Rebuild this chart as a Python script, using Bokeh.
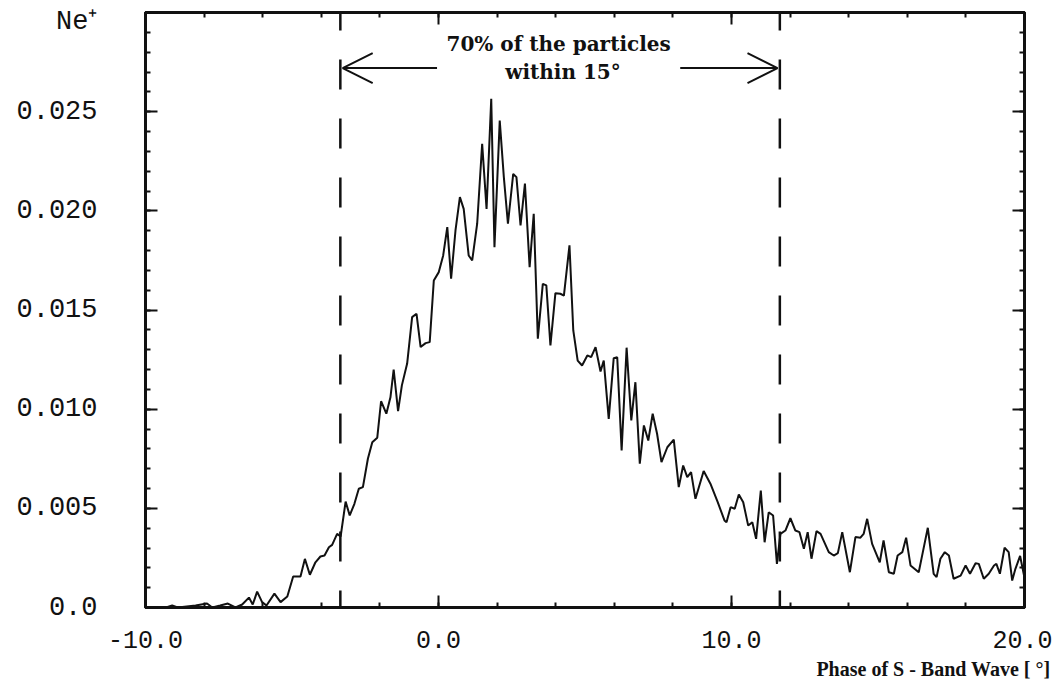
from bokeh.plotting import figure
from bokeh.models import (LinearAxis, SingleIntervalTicker, FixedTicker, CustomJSTickFormatter,
                          Arrow, OpenHead, Label, Title)
from bokeh.embed import file_html
from bokeh.resources import INLINE

# Phase distribution of the Ne+ bunch (phase in degrees, normalised count)
phase = [-10.0, -9.3, -9.09, -8.9, -8.29, -7.9, -7.72, -7.45, -7.19, -6.93, -6.7, -6.47,
         -6.34, -6.19, -6.02, -5.87, -5.6, -5.39, -5.16, -4.96, -4.71, -4.56, -4.39, -4.2,
         -4.03, -3.89, -3.74, -3.63, -3.46, -3.34, -3.17, -3.03, -2.87, -2.72, -2.58, -2.41,
         -2.26, -2.09, -1.96, -1.78, -1.64, -1.53, -1.38, -1.25, -1.07, -0.9, -0.75, -0.61,
         -0.44, -0.3, -0.16, 0.01, 0.16, 0.3, 0.43, 0.58, 0.73, 0.86, 1.03, 1.15, 1.32, 1.49,
         1.64, 1.8, 1.91, 2.09, 2.23, 2.37, 2.55, 2.66, 2.8, 2.95, 3.11, 3.25, 3.39, 3.56,
         3.68, 3.82, 3.99, 4.16, 4.28, 4.47, 4.6, 4.75, 4.9, 5.08, 5.21, 5.36, 5.53, 5.64,
         5.81, 5.98, 6.1, 6.25, 6.42, 6.58, 6.72, 6.87, 7.01, 7.16, 7.31, 7.46, 7.61, 7.81,
         8.03, 8.2, 8.35, 8.49, 8.62, 8.77, 9.05, 9.28, 9.53, 9.76, 9.83, 9.97, 10.11, 10.25,
         10.4, 10.57, 10.71, 10.84, 11.0, 11.13, 11.27, 11.42, 11.55, 11.67, 11.84, 12.01,
         12.18, 12.32, 12.47, 12.6, 12.73, 12.9, 13.04, 13.32, 13.49, 13.63, 13.78, 14.04,
         14.23, 14.4, 14.51, 14.63, 14.8, 15.06, 15.19, 15.37, 15.54, 15.67, 15.83, 15.96,
         16.11, 16.39, 16.53, 16.7, 16.9, 17.0, 17.13, 17.28, 17.42, 17.58, 17.82, 17.99,
         18.14, 18.33, 18.44, 18.61, 18.78, 18.96, 19.04, 19.16, 19.32, 19.46, 19.58, 19.69,
         19.85, 20.0]
ne_plus = [0.0, 0.0, 0.0001, 0.0, 0.0001, 0.0002, 0.0, 0.0001, 0.0002, 0.0, 0.00015, 0.0005,
           0.00015, 0.0008, 0.00027, 0.0001, 0.0007, 0.00027, 0.00055, 0.00156, 0.00156,
           0.00245, 0.00165, 0.00228, 0.00257, 0.00262, 0.00304, 0.00316, 0.00371, 0.00358,
           0.00534, 0.00464, 0.00523, 0.00599, 0.00607, 0.0075, 0.00833, 0.00856, 0.0104,
           0.00977, 0.0106, 0.012, 0.0099, 0.0112, 0.0123, 0.01464, 0.01481, 0.01313, 0.01333,
           0.01338, 0.01649, 0.01691, 0.01775, 0.01918, 0.01658, 0.01901, 0.02069, 0.0201,
           0.01775, 0.0175, 0.01935, 0.02338, 0.0201, 0.02565, 0.01817, 0.02455, 0.0217,
           0.01935, 0.02186, 0.0217, 0.01926, 0.02137, 0.01716, 0.01985, 0.01355, 0.01632,
           0.01624, 0.01321, 0.01585, 0.01582, 0.01573, 0.01826, 0.01397, 0.01245, 0.0122,
           0.01271, 0.01262, 0.01313, 0.0119, 0.01245, 0.00951, 0.01257, 0.01262, 0.00792,
           0.0131, 0.00943, 0.01136, 0.00725, 0.00918, 0.00842, 0.00977, 0.00876, 0.00733,
           0.00808, 0.00846, 0.00607, 0.00716, 0.00657, 0.00683, 0.00548, 0.00688, 0.00624,
           0.00531, 0.00439, 0.0043, 0.00506, 0.00498, 0.0057, 0.00531, 0.00413, 0.0043,
           0.00346, 0.0059, 0.00329, 0.0048, 0.00464, 0.0022, 0.00371, 0.00388, 0.0045,
           0.00388, 0.0038, 0.00296, 0.0038, 0.00246, 0.00385, 0.00371, 0.00279, 0.00262,
           0.00274, 0.0038, 0.00178, 0.00355, 0.00352, 0.00371, 0.00447, 0.00321, 0.00228,
           0.00338, 0.00178, 0.0017, 0.00262, 0.00279, 0.00352, 0.00212, 0.00178, 0.00279,
           0.00402, 0.0017, 0.00153, 0.00246, 0.00279, 0.00262, 0.00145, 0.00161, 0.00212,
           0.0017, 0.00223, 0.0022, 0.00145, 0.0017, 0.00212, 0.0022, 0.0017, 0.00301,
           0.00279, 0.00136, 0.00195, 0.0026, 0.0015]

# Phase window holding 70% of the particles
window_bounds = [-3.35, 11.65]
window_text = ["70% of the particles", "within 15°"]

# y tick labels; the quantity name sits just under the top of the axis
y_label_ticks = [0.0, 0.005, 0.010, 0.015, 0.020, 0.025]
y_unit_text = "Ne⁺"
x_title_text = "Phase of S - Band Wave  [ °]"

INK = "#111111"
SERIF = "DejaVu Serif"
TITLE_SERIF = "Liberation Serif"
MONO = "Liberation Mono"

p = figure(width=1052, height=689, x_range=(-10, 20), y_range=(0, 0.03),
           output_backend="svg", toolbar_location=None, x_axis_location=None,
           y_axis_location=None,
           min_border_left=145, min_border_right=28, min_border_top=12,
           min_border_bottom=82)
p.xgrid.visible = False
p.ygrid.visible = False
p.outline_line_color = INK
p.outline_line_width = 3
p.background_fill_color = "white"
p.border_fill_color = "white"

blank = CustomJSTickFormatter(code="return '';")


def tick_axis(ticker):
    """Axis drawing the frame line with inward major/minor ticks and no labels."""
    ax = LinearAxis(ticker=ticker, formatter=blank)
    ax.axis_line_color = INK
    ax.axis_line_width = 3
    ax.major_tick_line_color = INK
    ax.minor_tick_line_color = INK
    ax.major_tick_line_width = 2
    ax.minor_tick_line_width = 2
    ax.major_tick_in = 12
    ax.major_tick_out = 0
    ax.minor_tick_in = 5
    ax.minor_tick_out = 0
    ax.major_label_text_color = None
    ax.major_label_text_font_size = "1px"
    ax.major_label_standoff = 0
    return ax


x_ticker = SingleIntervalTicker(interval=10, num_minor_ticks=5)
y_ticker = SingleIntervalTicker(interval=0.005, num_minor_ticks=5)

# bottom axis: ticks and labels
bottom = tick_axis(x_ticker)
bottom.formatter = CustomJSTickFormatter(code="return tick.toFixed(1);")
bottom.major_label_text_color = INK
bottom.major_label_text_font = MONO
bottom.major_label_text_font_size = "25px"
bottom.major_label_standoff = 23
p.add_layout(bottom, "below")

p.add_layout(tick_axis(x_ticker), "above")
p.add_layout(tick_axis(y_ticker), "right")
p.add_layout(tick_axis(y_ticker), "left")

# outer left axis: only the labels (values plus the quantity name)
unit_tick = 0.0295
y_labels = LinearAxis(
    ticker=FixedTicker(ticks=y_label_ticks + [unit_tick], minor_ticks=[]),
    formatter=CustomJSTickFormatter(
        args=dict(unit=y_unit_text),
        code="""
        if (tick > 0.027) { return unit; }
        return Math.abs(tick) < 1e-9 ? '0.0' : tick.toFixed(3);
        """))
y_labels.axis_line_color = None
y_labels.major_tick_line_color = None
y_labels.minor_tick_line_color = None
y_labels.major_tick_in = 0
y_labels.major_tick_out = 0
y_labels.major_label_standoff = 48
y_labels.major_label_text_font = MONO
y_labels.major_label_text_font_size = "27px"
y_labels.major_label_text_color = INK
p.add_layout(y_labels, "left")

# x axis title, flush right under the tick labels
p.add_layout(Title(text=x_title_text, align="right", offset=-31,
                   text_font=TITLE_SERIF, text_font_style="bold", text_font_size="20px",
                   text_color=INK), "below")

# distribution
p.line(phase, ne_plus, line_color=INK, line_width=2)

# dashed boundaries of the 70% window
for xb in window_bounds:
    p.line([xb, xb], [0.0306, 0.0], line_color=INK, line_width=2.5, line_dash="30 29")

# arrows pointing out to the window boundaries
arrow_y = 0.0272
mid_left = window_bounds[0] + 3.3
mid_right = window_bounds[1] - 3.4
p.add_layout(Arrow(end=OpenHead(size=30, line_width=2, line_color=INK),
                   x_start=mid_left, y_start=arrow_y,
                   x_end=window_bounds[0] + 0.08, y_end=arrow_y,
                   line_width=2, line_color=INK))
p.add_layout(Arrow(end=OpenHead(size=30, line_width=2, line_color=INK),
                   x_start=mid_right, y_start=arrow_y,
                   x_end=window_bounds[1] - 0.08, y_end=arrow_y,
                   line_width=2, line_color=INK))

text_mid = sum(window_bounds) / 2
p.add_layout(Label(x=text_mid - 0.05, y=0.0284, text=window_text[0],
                   text_align="center", text_baseline="alphabetic",
                   text_font=SERIF, text_font_style="bold", text_font_size="20px",
                   text_color=INK))
p.add_layout(Label(x=text_mid + 0.1, y=0.0270, text=window_text[1],
                   text_align="center", text_baseline="alphabetic",
                   text_font=SERIF, text_font_style="bold", text_font_size="20px",
                   text_color=INK))

open("out.html", "w").write(file_html(p, INLINE))
